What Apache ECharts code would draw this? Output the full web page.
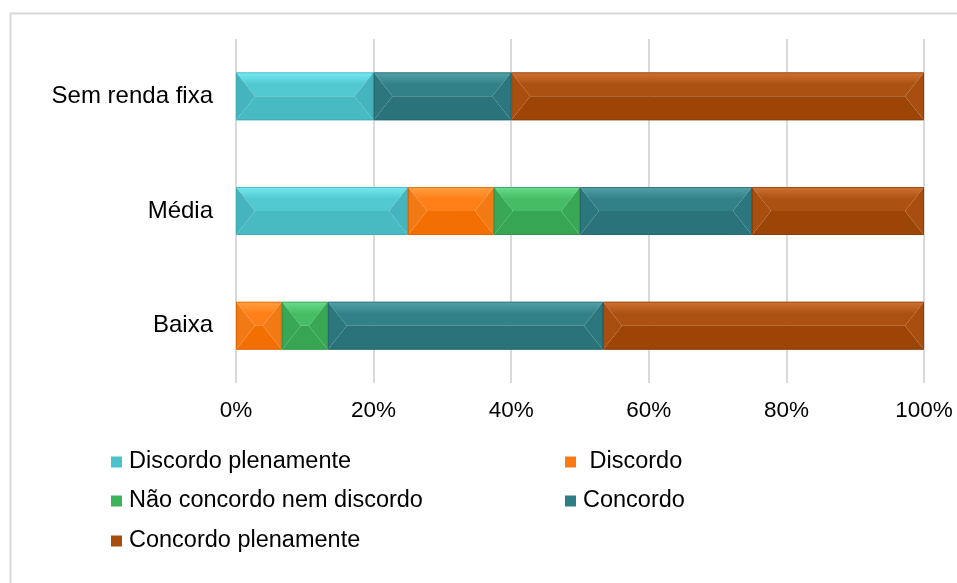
<!DOCTYPE html>
<html>
<head>
<meta charset="utf-8">
<script src="https://cdn.jsdelivr.net/npm/echarts@6/dist/echarts.min.js"></script>
<style>
html,body{margin:0;padding:0;background:#fff;}
#chart{width:957px;height:583px;}
</style>
</head>
<body>
<div id="chart"></div>
<script>
// Data
var categories = ['Baixa', 'Média', 'Sem renda fixa'];
var seriesNames = ['Discordo plenamente', 'Discordo', 'Não concordo nem discordo', 'Concordo', 'Concordo plenamente'];
var discordoPlenamente = [0, 25, 20];
var discordo = [6.67, 12.5, 0];
var naoConcordoNemDiscordo = [6.67, 12.5, 0];
var concordo = [40, 25, 20];
var concordoPlenamente = [46.66, 25, 60];
var tickLabels = ['0%', '20%', '40%', '60%', '80%', '100%'];

var seriesValues = [discordoPlenamente, discordo, naoConcordoNemDiscordo, concordo, concordoPlenamente];

// Colours: [top-light, top-base, bottom, side, outline, legend]
var palette = [
  ['#74eaf2', '#52c9d1', '#47bac2', '#45b4bc', '#3aa3ab', '#4bc3cb'],
  ['#ffa040', '#ff7f18', '#f46f02', '#f27a14', '#c85e00', '#fb7a12'],
  ['#6ade8c', '#46bc64', '#37a653', '#38a854', '#2c8c45', '#3db45c'],
  ['#52a2a8', '#338188', '#2a737a', '#2c767d', '#215f65', '#2f7d84'],
  ['#d07232', '#ab5112', '#9d4507', '#a84e0e', '#7d3504', '#a84c0e']
];

var chart = echarts.init(document.getElementById('chart'), null, {renderer: 'canvas'});

var FONT = '"Liberation Sans", Arial, sans-serif';

var series = seriesNames.map(function (name, si) {
  var data = categories.map(function (c, ci) {
    var start = 0;
    for (var k = 0; k < si; k++) start += seriesValues[k][ci];
    return [ci, start, start + seriesValues[si][ci]];
  }).filter(function (d) { return d[2] - d[1] > 0; });
  var pal = palette[si];
  return {
    type: 'custom',
    name: name,
    itemStyle: {color: pal[5]},
    encode: {x: [1, 2], y: 0},
    data: data,
    renderItem: function (params, api) {
      var cat = api.value(0);
      var p0 = api.coord([api.value(1), cat]);
      var p1 = api.coord([api.value(2), cat]);
      var h = 48;
      var x0 = p0[0], x1 = p1[0];
      var yc = p0[1], yt = yc - h / 2, yb = yc + h / 2;
      var w = x1 - x0;
      var d = Math.min(19, w / 2);
      return {
        type: 'group',
        children: [
          {type: 'polygon', shape: {points: [[x0, yt], [x1, yt], [x1 - d, yc], [x0 + d, yc]]},
            style: {fill: new echarts.graphic.LinearGradient(0, 0, 0, 1, [{offset: 0, color: pal[0]}, {offset: 0.5, color: pal[1]}, {offset: 1, color: pal[1]}])}},
          {type: 'polygon', shape: {points: [[x0, yb], [x1, yb], [x1 - d, yc], [x0 + d, yc]]},
            style: {fill: pal[2]}},
          {type: 'polygon', shape: {points: [[x0, yt], [x0 + d, yc], [x0, yb]]},
            style: {fill: pal[3]}},
          {type: 'polygon', shape: {points: [[x1, yt], [x1 - d, yc], [x1, yb]]},
            style: {fill: pal[3]}},
          {type: 'rect', shape: {x: x0 + 0.5, y: yt + 0.5, width: w - 1, height: h - 1},
            style: {fill: null, stroke: pal[4], lineWidth: 1, opacity: 0.6}}
        ]
      };
    }
  };
});

var rowY = [462, 501, 541];
var legendPos = [
  {left: 111, cy: rowY[0]},
  {left: 565, cy: rowY[0]},
  {left: 111, cy: rowY[1]},
  {left: 565, cy: rowY[1]},
  {left: 111, cy: rowY[2]}
];
var legends = seriesNames.map(function (name, i) {
  return {
    data: [name],
    left: legendPos[i].left,
    top: legendPos[i].cy - 12,
    padding: 0,
    icon: 'rect',
    itemWidth: 11,
    itemHeight: 11,
    selectedMode: false,
    formatter: i === 1 ? ' {name}' : '{name}',
    textStyle: {fontFamily: FONT, fontSize: 23.5, color: '#000', lineHeight: 24, padding: [0, 0, 0, 2]}
  };
});

var option = {
  animation: false,
  backgroundColor: '#fff',
  graphic: [{
    type: 'rect', left: 8, top: 11, z: -1,
    shape: {x: 0, y: 0, width: 1100, height: 800},
    style: {fill: null, stroke: '#d9d9d9', lineWidth: 2}
  }],
  grid: {left: 236, right: 33, top: 39, bottom: 200, containLabel: false},
  xAxis: {
    type: 'value', min: 0, max: 100, interval: 20,
    axisLine: {show: false}, axisTick: {show: false},
    splitLine: {show: true, lineStyle: {color: '#d9d9d9', width: 2}},
    axisLabel: {
      margin: 16, color: '#000', fontFamily: FONT, fontSize: 22.5,
      formatter: function (v) { return tickLabels[Math.round(v / 20)]; }
    }
  },
  yAxis: {
    type: 'category', data: categories,
    axisLine: {show: false}, axisTick: {show: false},
    axisLabel: {margin: 23, color: '#000', fontFamily: FONT, fontSize: 24}
  },
  legend: legends,
  series: series
};
chart.setOption(option);
</script>
</body>
</html>
